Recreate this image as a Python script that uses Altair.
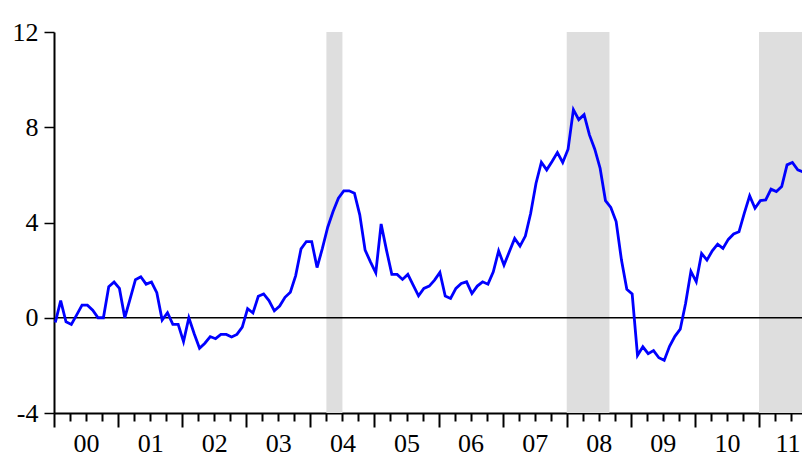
import json
import altair as alt
import pandas as pd

# Monthly values, Jan 2000 onward
values = [
    -0.2, 0.72, -0.17, -0.28, 0.12, 0.53, 0.53, 0.32, 0.0, 0.0, 1.3, 1.5,
    1.23, 0.0, 0.79, 1.6, 1.72, 1.41, 1.5, 1.05, -0.1, 0.21, -0.28, -0.28,
    -1.0, 0.0, -0.67, -1.28, -1.07, -0.79, -0.88, -0.7, -0.7, -0.81, -0.7, -0.39,
    0.38, 0.2, 0.9, 1.0, 0.72, 0.29, 0.49, 0.86, 1.07, 1.77, 2.89, 3.2,
    3.2, 2.11, 2.91, 3.8, 4.46, 5.02, 5.33, 5.33, 5.23, 4.32, 2.84, 2.35,
    1.89, 3.94, 2.84, 1.82, 1.82, 1.61, 1.82, 1.37, 0.92, 1.23, 1.33, 1.58,
    1.9, 0.91, 0.81, 1.23, 1.44, 1.51, 1.02, 1.33, 1.51, 1.41, 1.93, 2.81,
    2.21, 2.77, 3.33, 3.01, 3.43, 4.39, 5.65, 6.53, 6.21, 6.56, 6.94, 6.52,
    7.08, 8.74, 8.32, 8.53, 7.68, 7.08, 6.28, 4.92, 4.63, 4.04, 2.42, 1.2,
    1.0, -1.58, -1.22, -1.51, -1.38, -1.68, -1.79, -1.2, -0.78, -0.48, 0.6, 1.95,
    1.51, 2.7, 2.42, 2.81, 3.09, 2.91, 3.29, 3.52, 3.61, 4.39, 5.12, 4.6,
    4.92, 4.95, 5.4, 5.3, 5.51, 6.42, 6.52, 6.21, 6.13, 5.51, 4.2,
]
year_labels = ["00", "01", "02", "03", "04", "05", "06", "07", "08", "09", "10", "11"]
y_ticks = [-4, 0, 4, 8, 12]
# shaded periods, in months since Jan 2000
shade_start = [51, 96, 132]
shade_end = [54, 104, 143]

PLOT_W = 748
PLOT_H = 381
X_END = PLOT_W / 5.341
FONT = "Liberation Serif"

line_df = pd.DataFrame({"month": [i + 0.25 for i in range(len(values))], "value": values})
shade_df = pd.DataFrame({"month": shade_start, "end": shade_end})
zero_df = pd.DataFrame({"value": [0]})

x_scale = alt.Scale(domain=[0, X_END], nice=False, zero=False)
y_scale = alt.Scale(domain=[-4, 12], nice=False, zero=False)

label_expr = "datum.value % 12 === 6 ? " + json.dumps(year_labels) + "[floor(datum.value / 12)] : ''"

x_axis = alt.Axis(
    title=None,
    values=list(range(0, 141, 3)),
    labelExpr=label_expr,
    tickSize={"condition": {"test": "datum.value % 12 === 0", "value": 14}, "value": 8},
    tickWidth=2,
    tickColor="black",
    domainColor="black",
    domainWidth=2,
    labelFont=FONT,
    labelFontSize=26,
    labelColor="black",
    labelPadding=9,
    labelOverlap=False,
    labelFlush=12,
    labelFlushOffset=9,
    grid=False,
)
y_axis = alt.Axis(
    title=None,
    values=y_ticks,
    labelExpr="replace(datum.label, '\u2212', '-')",
    tickSize=10,
    tickWidth=1.5,
    tickColor="black",
    domainColor="black",
    domainWidth=2,
    labelFont=FONT,
    labelFontSize=26,
    labelColor="black",
    labelPadding=6,
    labelFlush=False,
    grid=False,
)

shade = alt.Chart(shade_df).mark_rect(color="#DEDEDE", clip=True).encode(
    x=alt.X("month:Q", scale=x_scale, axis=x_axis),
    x2="end:Q",
    y=alt.value(0),
    y2=alt.value(PLOT_H),
)

zero = alt.Chart(zero_df).mark_rule(color="black", strokeWidth=1.6).encode(
    y=alt.Y("value:Q", scale=y_scale, axis=y_axis),
)

line = alt.Chart(line_df).mark_line(color="#0000FF", strokeWidth=2.8, clip=True).encode(
    x=alt.X("month:Q", scale=x_scale, axis=x_axis),
    y=alt.Y("value:Q", scale=y_scale, axis=y_axis),
)

chart = alt.layer(shade, zero, line).properties(
    width=PLOT_W,
    height=PLOT_H,
    autosize=alt.AutoSizeParams(type="none"),
    padding={"left": 46, "top": 24, "right": 0, "bottom": 44},
).configure_view(stroke=None)

chart.save("out.html", embed_options={"renderer": "svg", "actions": False})
